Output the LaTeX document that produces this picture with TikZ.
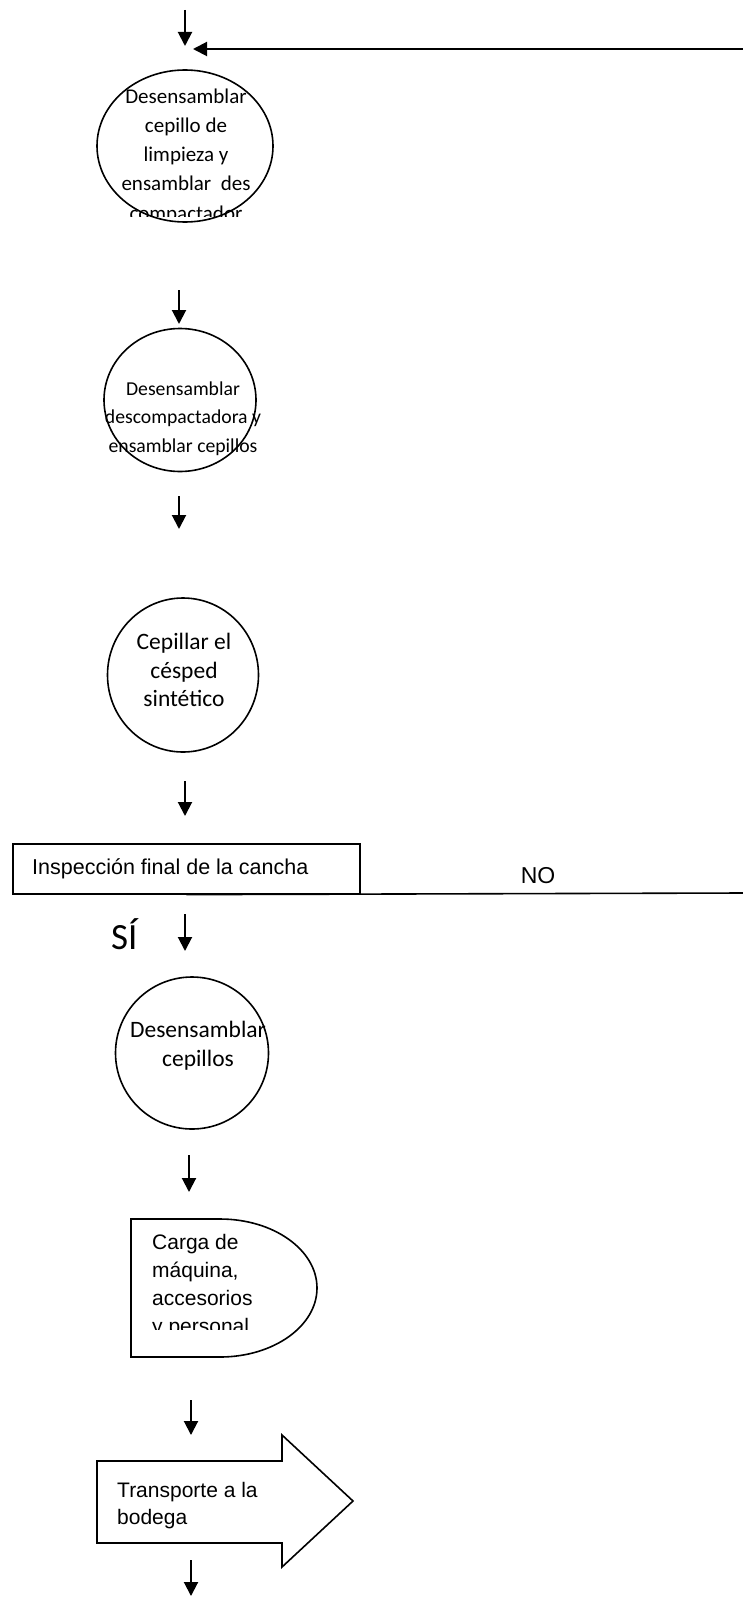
\documentclass[tikz,border=0pt]{standalone}
\usepackage{fontspec}
\setmainfont{Carlito}
\newfontfamily\arialf{Liberation Sans}
\usetikzlibrary{arrows.meta,shapes.geometric}

\tikzset{
  flow/.style={line width=2pt, -{Triangle[length=14pt,width=14pt]}},
  outline/.style={line width=1.6pt},
  proc/.style={ellipse, draw, outline, inner sep=0pt},
  ctext/.style={align=center, inner sep=0pt, anchor=north},
  ltext/.style={align=left, inner sep=0pt, anchor=north west},
}

\begin{document}
\begin{tikzpicture}[x=1pt, y=-1pt]
\useasboundingbox (0,0) rectangle (743,1600);

% return loop and entry arrow
\coordinate (in0) at (185,10);
\coordinate (in1) at (185,46);
\coordinate (back0) at (743,49);
\coordinate (back1) at (193,49);
\draw[flow] (in0) -- (in1);
\draw[flow] (back0) -- (back1);

% step 1
\node[proc, minimum width=176pt, minimum height=152pt] (s1) at (185,146) {};
\begin{scope}
  \clip (80,60) rectangle (300,216);
  \node[ctext, font=\fontsize{21}{29.3}\selectfont] (s1t) at (186,88.3)
    {Desensamblar\\cepillo de\\limpieza y\\ensamblar\ \ des\\compactador};
\end{scope}

\coordinate (a1s) at (179,290);
\coordinate (a1e) at (179,324);
\draw[flow] (a1s) -- (a1e);

% step 2
\node[proc, minimum width=152pt, minimum height=143pt] (s2) at (180,400) {};
\node[ctext, font=\fontsize{19.7}{28.5}\selectfont] (s2t) at (183,381.2)
  {Desensamblar\\descompactadora y\\ensamblar cepillos};

\coordinate (a2s) at (179,496);
\coordinate (a2e) at (179,529);
\draw[flow] (a2s) -- (a2e);

% step 3
\node[proc, minimum width=151pt, minimum height=154pt] (s3) at (183,675) {};
\node[ctext, font=\fontsize{23.5}{28.5}\selectfont] (s3t) at (184,633)
  {Cepillar el\\césped\\sintético};

\coordinate (a3s) at (185,781);
\coordinate (a3e) at (185,816);
\draw[flow] (a3s) -- (a3e);

% inspection
\node[draw, outline, minimum width=347pt, minimum height=50pt, inner sep=0pt,
      anchor=north west] (insp) at (12,843) {};
\node[inner sep=0pt, anchor=base west, font=\arialf\fontsize{21.5}{26}\selectfont]
  (inspt) at (32,874) {Inspección final de la cancha};
\coordinate (noEnd) at (743,893);
\draw[outline] (insp.south) -- (noEnd);
\node[inner sep=0pt, anchor=base, font=\arialf\fontsize{23}{28}\selectfont]
  (no) at (538,883) {NO};
\node[inner sep=0pt, anchor=base west, font=\fontsize{37}{44}\selectfont]
  (si) at (111,949) {SÍ};

\coordinate (a4s) at (185,914);
\coordinate (a4e) at (185,951);
\draw[flow] (a4s) -- (a4e);

% step 4
\node[proc, minimum width=153pt, minimum height=152pt] (s4) at (192,1053) {};
\node[ctext, font=\fontsize{23.5}{29}\selectfont] (s4t) at (198,1020.5)
  {Desensamblar\\cepillos};

\coordinate (a5s) at (189,1155);
\coordinate (a5e) at (189,1192);
\draw[flow] (a5s) -- (a5e);

% loading (delay)
\draw[outline] (131,1219) -- (220,1219)
  .. controls (273.6,1219) and (317,1249.9) .. (317,1288)
  .. controls (317,1326.1) and (273.6,1357) .. (220,1357)
  -- (131,1357) -- cycle;
\begin{scope}
  \clip (131,1219) rectangle (320,1329);
  \node[ltext, font=\arialf\fontsize{21}{28}\selectfont] (loadt) at (152,1233.7)
    {Carga de\\máquina,\\accesorios\\y personal};
\end{scope}

\coordinate (a6s) at (191,1400);
\coordinate (a6e) at (191,1435);
\draw[flow] (a6s) -- (a6e);

% transport
\draw[outline] (97,1461) -- (282,1461) -- (282,1435) -- (353,1501)
  -- (282,1567) -- (282,1543) -- (97,1543) -- cycle;
\node[ltext, font=\arialf\fontsize{21}{27.5}\selectfont] (trt) at (117,1481.7)
  {Transporte a la\\bodega};

\coordinate (a7s) at (191,1560);
\coordinate (a7e) at (191,1596);
\draw[flow] (a7s) -- (a7e);
\end{tikzpicture}
\end{document}
